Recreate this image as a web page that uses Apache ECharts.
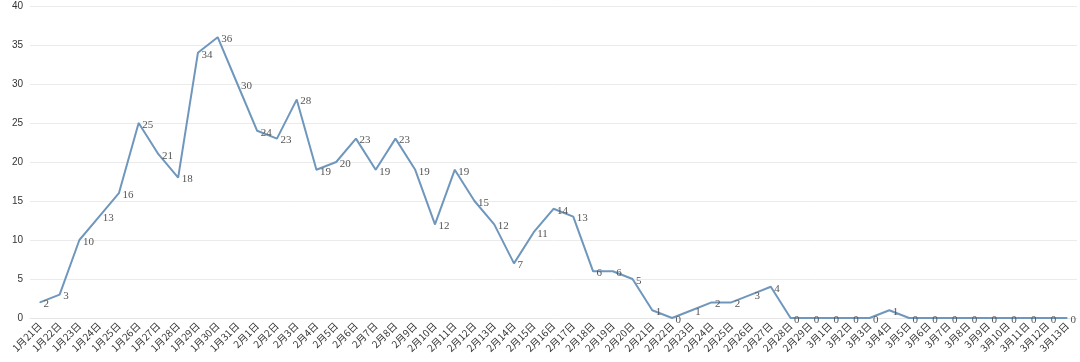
<!DOCTYPE html>
<html>
<head>
<meta charset="utf-8">
<script src="https://cdn.jsdelivr.net/npm/echarts@6/dist/echarts.min.js"></script>
<style>html,body{margin:0;padding:0;background:#fff;}#c{width:1080px;height:362px;}</style>
</head>
<body>
<div id="c"></div>
<script>
const categories = ['1月21日','1月22日','1月23日','1月24日','1月25日','1月26日','1月27日','1月28日','1月29日','1月30日','1月31日',
'2月1日','2月2日','2月3日','2月4日','2月5日','2月6日','2月7日','2月8日','2月9日','2月10日','2月11日','2月12日','2月13日','2月14日','2月15日','2月16日','2月17日','2月18日','2月19日','2月20日','2月21日','2月22日','2月23日','2月24日','2月25日','2月26日','2月27日','2月28日','2月29日',
'3月1日','3月2日','3月3日','3月4日','3月5日','3月6日','3月7日','3月8日','3月9日','3月10日','3月11日','3月12日','3月13日'];
const values = [2,3,10,13,16,25,21,18,34,36,30,
24,23,28,19,20,23,19,23,19,12,19,15,12,7,11,14,13,6,6,5,1,0,1,2,2,3,4,0,0,
0,0,0,1,0,0,0,0,0,0,0,0,0];
const yTicks = {min:0, max:40, interval:5};

const chart = echarts.init(document.getElementById('c'));
chart.setOption({
  animation:false,
  grid:{left:30,right:3,top:6,bottom:44},
  xAxis:{
    type:'category',
    data:categories,
    boundaryGap:true,
    axisLine:{show:true,lineStyle:{color:'#e6e6e6'}},
    axisTick:{show:false},
    axisLabel:{interval:0,rotate:45,fontSize:10,color:'#333',margin:6,fontFamily:'Noto Sans CJK SC'}
  },
  yAxis:{
    type:'value',
    min:yTicks.min,max:yTicks.max,interval:yTicks.interval,
    axisLine:{show:false},
    axisTick:{show:false},
    axisLabel:{fontSize:10,color:'#333',margin:7,fontFamily:'Liberation Sans'},
    splitLine:{lineStyle:{color:'#ebebeb'}}
  },
  series:[{
    type:'line',
    data:values,
    showSymbol:true,
    showAllSymbol:true,
    symbol:'circle',
    symbolSize:1,
    itemStyle:{color:'#6f97bd'},
    lineStyle:{color:'#6f97bd',width:2},
    label:{show:true,position:'right',distance:3,offset:[0,2],fontSize:11,color:'#555',fontFamily:'Liberation Serif'}
  }]
});
</script>
</body>
</html>
